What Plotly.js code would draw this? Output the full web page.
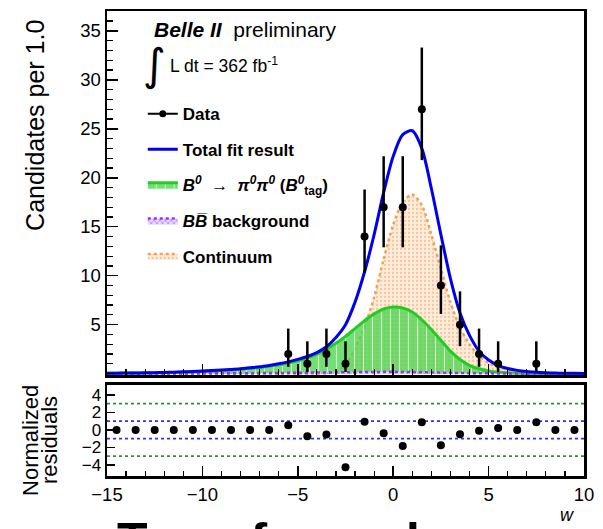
<!DOCTYPE html>
<html>
<head>
<meta charset="utf-8">
<script src="https://cdn.plot.ly/plotly-3.0.1.min.js"></script>
<style>html,body{margin:0;padding:0;background:#fff;}</style>
</head>
<body>
<div id="chart" style="width:603px;height:529px;"></div>
<script>
// ---- data ----
const dataX = [-5.5,-4.5,-3.5,-2.5,-1.5,-0.5,0.5,1.5,2.5,3.5,4.5,5.5,7.5];
const dataY = [2,1,2,1,14,17,17,27,9,5,2,1,1];
const dataErrHi = [2.6,2.3,2.6,2.3,4.8,5.2,5.2,6.3,4.1,3.4,2.6,2.3,2.3];
const dataErrLo = [1.3,0.83,1.3,0.83,3.7,4.1,4.1,5.2,2.9,2.2,1.3,0.83,0.83];

const binCenters = [-14.5,-13.5,-12.5,-11.5,-10.5,-9.5,-8.5,-7.5,-6.5,-5.5,-4.5,-3.5,-2.5,-1.5,-0.5,0.5,1.5,2.5,3.5,4.5,5.5,6.5,7.5,8.5,9.5];
const residuals = [0,0,0,0,0,0,0,0,0,0.53,-0.71,-0.53,-4.25,0.94,-0.38,-1.85,0.87,-1.74,-0.49,-0.11,0.23,0,0.87,0,0];

const curveX = [-15,-14.5,-14,-13.5,-13,-12.5,-12,-11.5,-11,-10.5,-10,-9.5,-9,-8.5,-8,-7.5,-7,-6.5,-6,-5.5,-5,-4.5,-4,-3.5,-3,-2.5,-2,-1.5,-1,-0.5,0,0.5,1,1.5,2,2.5,3,3.5,4,4.5,5,5.5,6,6.5,7,7.5,8,8.5,9,9.5,10];
const totalFit = [0.04,0.05,0.06,0.07,0.08,0.10,0.12,0.15,0.18,0.22,
  0.26,0.31,0.37,0.43,0.50,0.60,0.70,0.84,1.00,1.20,
  1.45,1.75,2.15,2.75,3.70,5.00,7.30,10.4,14.2,18.5,
  22.2,24.4,24.8,23.0,18.9,14.2,9.7,6.2,3.9,2.3,
  1.4,0.85,0.52,0.33,0.21,0.14,0.09,0.06,0.04,0.03,
  0.02];
const signalCurve = [0.03,0.04,0.05,0.06,0.07,0.08,0.10,0.12,0.15,0.18,
  0.22,0.27,0.32,0.38,0.45,0.54,0.63,0.76,0.90,1.08,
  1.30,1.60,2.00,2.50,3.10,3.80,4.60,5.40,6.10,6.60,
  6.80,6.70,6.30,5.50,4.50,3.40,2.30,1.45,0.85,0.50,
  0.28,0.15,0.08,0.04,0.02,0.01,0.01,0,0,0,
  0];
const continuumCurve = [0,0,0,0,0,0,0,0,0,0,
  0,0,0,0,0,0,0,0,0,0,
  0,0,0.01,0.05,0.30,0.85,2.6,4.8,7.8,11.7,
  15.2,17.5,18.3,17.2,14.2,10.7,7.3,4.7,3.0,1.8,
  1.1,0.68,0.42,0.27,0.17,0.11,0.07,0.05,0.03,0.02,
  0.01];
const bbCurve = [0.01,0.01,0.01,0.01,0.01,0.01,0.02,0.02,0.02,0.02,
  0.03,0.03,0.03,0.04,0.04,0.05,0.05,0.06,0.07,0.08,
  0.09,0.10,0.11,0.12,0.13,0.14,0.15,0.16,0.17,0.18,
  0.18,0.17,0.16,0.14,0.12,0.10,0.08,0.06,0.05,0.04,
  0.03,0.02,0.02,0.01,0.01,0.01,0.01,0,0,0,
  0];

const refLevels = [3,1,-1,-3];
const refColors = ['#2f8f2f','#3030ff','#3030ff','#2f8f2f'];
const xRange = [-15,10];
const yTickVals = [5,10,15,20,25,30,35];
const resTickVals = [-4,-2,0,2,4];

const names = {
  data: '<b>Data</b>',
  total: '<b>Total fit result</b>',
  sig: '<b><i>B</i><sup><i>0</i></sup>  \u2192  <i>\u03c0<sup>0</sup>\u03c0<sup>0</sup></i> (<i>B</i><sup><i>0</i></sup><sub>tag</sub>)</b>',
  bb: '<b><i>B</i><i>B\u0305</i> background</b>',
  cont: '<b>Continuum</b>'
};

const FONT = 'Liberation Sans, Arial, sans-serif';
const traces = [];

// continuum (drawn first, below signal)
traces.push({
  x: curveX, y: continuumCurve, xaxis:'x', yaxis:'y', type:'scatter', mode:'lines',
  line:{color:'#f5a155', width:2.5, dash:'dot', shape:'spline', smoothing:0.8},
  fill:'tozeroy', fillcolor:'#fde7d3',
  fillpattern:{shape:'.', bgcolor:'#fdebdc', fgcolor:'#f8c79c', size:4, solidity:0.25},
  name: names.cont, legendrank: 5, legendgroup:'g5'
});
// signal
traces.push({
  x: curveX, y: signalCurve, xaxis:'x', yaxis:'y', type:'scatter', mode:'lines',
  line:{color:'#22cc22', width:3, shape:'spline', smoothing:0.8},
  fill:'tozeroy', fillcolor:'rgba(70,210,70,0.75)',
  fillpattern:{shape:'|', bgcolor:'rgba(80,212,80,0.78)', fgcolor:'rgba(220,250,220,0.8)', size:9, solidity:0.12},
  name: names.sig, legendrank: 3, legendgroup:'g3'
});
// BB background
traces.push({
  x: curveX, y: bbCurve, xaxis:'x', yaxis:'y', type:'scatter', mode:'lines',
  line:{color:'#9a30ff', width:2.5, dash:'dot', shape:'spline'},
  fill:'tozeroy', fillcolor:'#e6d2ff',
  fillpattern:{shape:'x', bgcolor:'#ead9ff', fgcolor:'#b070ff', size:4, solidity:0.3},
  name: names.bb, legendrank: 4, legendgroup:'g4'
});
// total
traces.push({
  x: curveX, y: totalFit, xaxis:'x', yaxis:'y', type:'scatter', mode:'lines',
  line:{color:'#0000ee', width:3, shape:'spline', smoothing:0.8},
  name: names.total, legendrank: 2, legendgroup:'g2'
});
// data
traces.push({
  x: dataX, y: dataY, xaxis:'x', yaxis:'y', type:'scatter', mode:'markers',
  marker:{color:'black', size:8},
  error_y:{type:'data', symmetric:false, array:dataErrHi, arrayminus:dataErrLo, width:0, thickness:2.5, color:'black'},
  showlegend:false
});
// data legend entry
traces.push({
  x:[null], y:[null], xaxis:'x', yaxis:'y', type:'scatter', mode:'lines+markers',
  line:{color:'black', width:2}, marker:{color:'black', size:7},
  name: names.data, legendrank: 1, legendgroup:'g1'
});
// residual reference lines
refLevels.forEach((lv, i) => {
  traces.push({
    x: xRange, y: [lv, lv], xaxis:'x2', yaxis:'y2', type:'scatter', mode:'lines',
    line:{color: refColors[i], width:1.8, dash:'dot'}, showlegend:false, hoverinfo:'skip'
  });
});
// residuals
traces.push({
  x: binCenters, y: residuals, xaxis:'x2', yaxis:'y2', type:'scatter', mode:'markers',
  marker:{color:'black', size:8}, showlegend:false
});

const frame = {showline:true, linewidth:2.5, linecolor:'black', mirror:true, showgrid:false, zeroline:false};
const layout = {
  width:603, height:529,
  margin:{l:107, r:19, t:11, b:53},
  paper_bgcolor:'white', plot_bgcolor:'white',
  font:{family:FONT, color:'black', size:18},
  showlegend:true,
  legend:{x:0.075, y:0.817, xanchor:'left', yanchor:'top', bgcolor:'rgba(0,0,0,0)',
    font:{family:FONT, size:17, color:'black'}, tracegroupgap:10.5, itemwidth:30, traceorder:'grouped'},
  xaxis: Object.assign({}, frame, {domain:[0,1], anchor:'y', range:xRange, showticklabels:false,
    ticks:'inside', ticklen:11, tickwidth:1.5, tickcolor:'black', tick0:0, dtick:5,
    minor:{ticks:'inside', ticklen:6, tickwidth:1.2, tickcolor:'black', dtick:1, showgrid:false}}),
  yaxis: Object.assign({}, frame, {domain:[0.217,1], anchor:'x', range:[-0.15,37.03],
    tickvals:yTickVals, ticks:'inside', ticklen:11, tickwidth:1.5, tickcolor:'black',
    tickfont:{family:FONT, size:18.5},
    minor:{ticks:'inside', ticklen:6, tickwidth:1.2, tickcolor:'black', dtick:1, tick0:0, showgrid:false}}),
  xaxis2: Object.assign({}, frame, {domain:[0,1], anchor:'y2', range:xRange,
    ticks:'inside', ticklen:10, tickwidth:1.5, tickcolor:'black', tick0:0, dtick:5,
    tickfont:{family:FONT, size:18.5},
    minor:{ticks:'inside', ticklen:5, tickwidth:1.2, tickcolor:'black', dtick:1, showgrid:false}}),
  yaxis2: Object.assign({}, frame, {domain:[0,0.196], anchor:'x2', range:[-5.26,5.14],
    tickvals:resTickVals, ticks:'inside', ticklen:8, tickwidth:1.5, tickcolor:'black',
    tickfont:{family:FONT, size:17}}),
  annotations:[
    {xref:'paper', yref:'paper', x:-0.151, y:0.755, text:'Candidates per 1.0', textangle:-90,
     showarrow:false, font:{family:FONT, size:25}, xanchor:'center', yanchor:'middle'},
    {xref:'paper', yref:'paper', x:-0.162, y:0.077, text:'Normalized', textangle:-90,
     showarrow:false, font:{family:FONT, size:22}, xanchor:'center', yanchor:'middle'},
    {xref:'paper', yref:'paper', x:-0.122, y:0.077, text:'residuals', textangle:-90,
     showarrow:false, font:{family:FONT, size:22}, xanchor:'center', yanchor:'middle'},
    {xref:'paper', yref:'paper', x:0.094, y:0.961, text:'<b><i>Belle II</i></b>  preliminary',
     showarrow:false, font:{family:FONT, size:21}, xanchor:'left', yanchor:'middle'},
    {xref:'paper', yref:'paper', x:0.099, y:0.885, text:'\u222b',
     showarrow:false, font:{family:'DejaVu Sans', size:44}, xanchor:'center', yanchor:'middle'},
    {xref:'paper', yref:'paper', x:0.128, y:0.884, text:'L dt = 362 fb<sup>-1</sup>',
     showarrow:false, font:{family:FONT, size:17.5}, xanchor:'left', yanchor:'middle'},
    {xref:'paper', yref:'paper', x:0.964, y:-0.083, text:'<i>w</i>',
     showarrow:false, font:{family:FONT, size:18}, xanchor:'center', yanchor:'middle'},
    {xref:'paper', yref:'paper', x:0.016, y:-0.075, text:'<b>Transformed</b>',
     showarrow:false, font:{family:FONT, size:50}, xanchor:'left', yanchor:'top'}
  ]
};

Plotly.newPlot('chart', traces, layout, {staticPlot:true, displayModeBar:false});
</script>
</body>
</html>
